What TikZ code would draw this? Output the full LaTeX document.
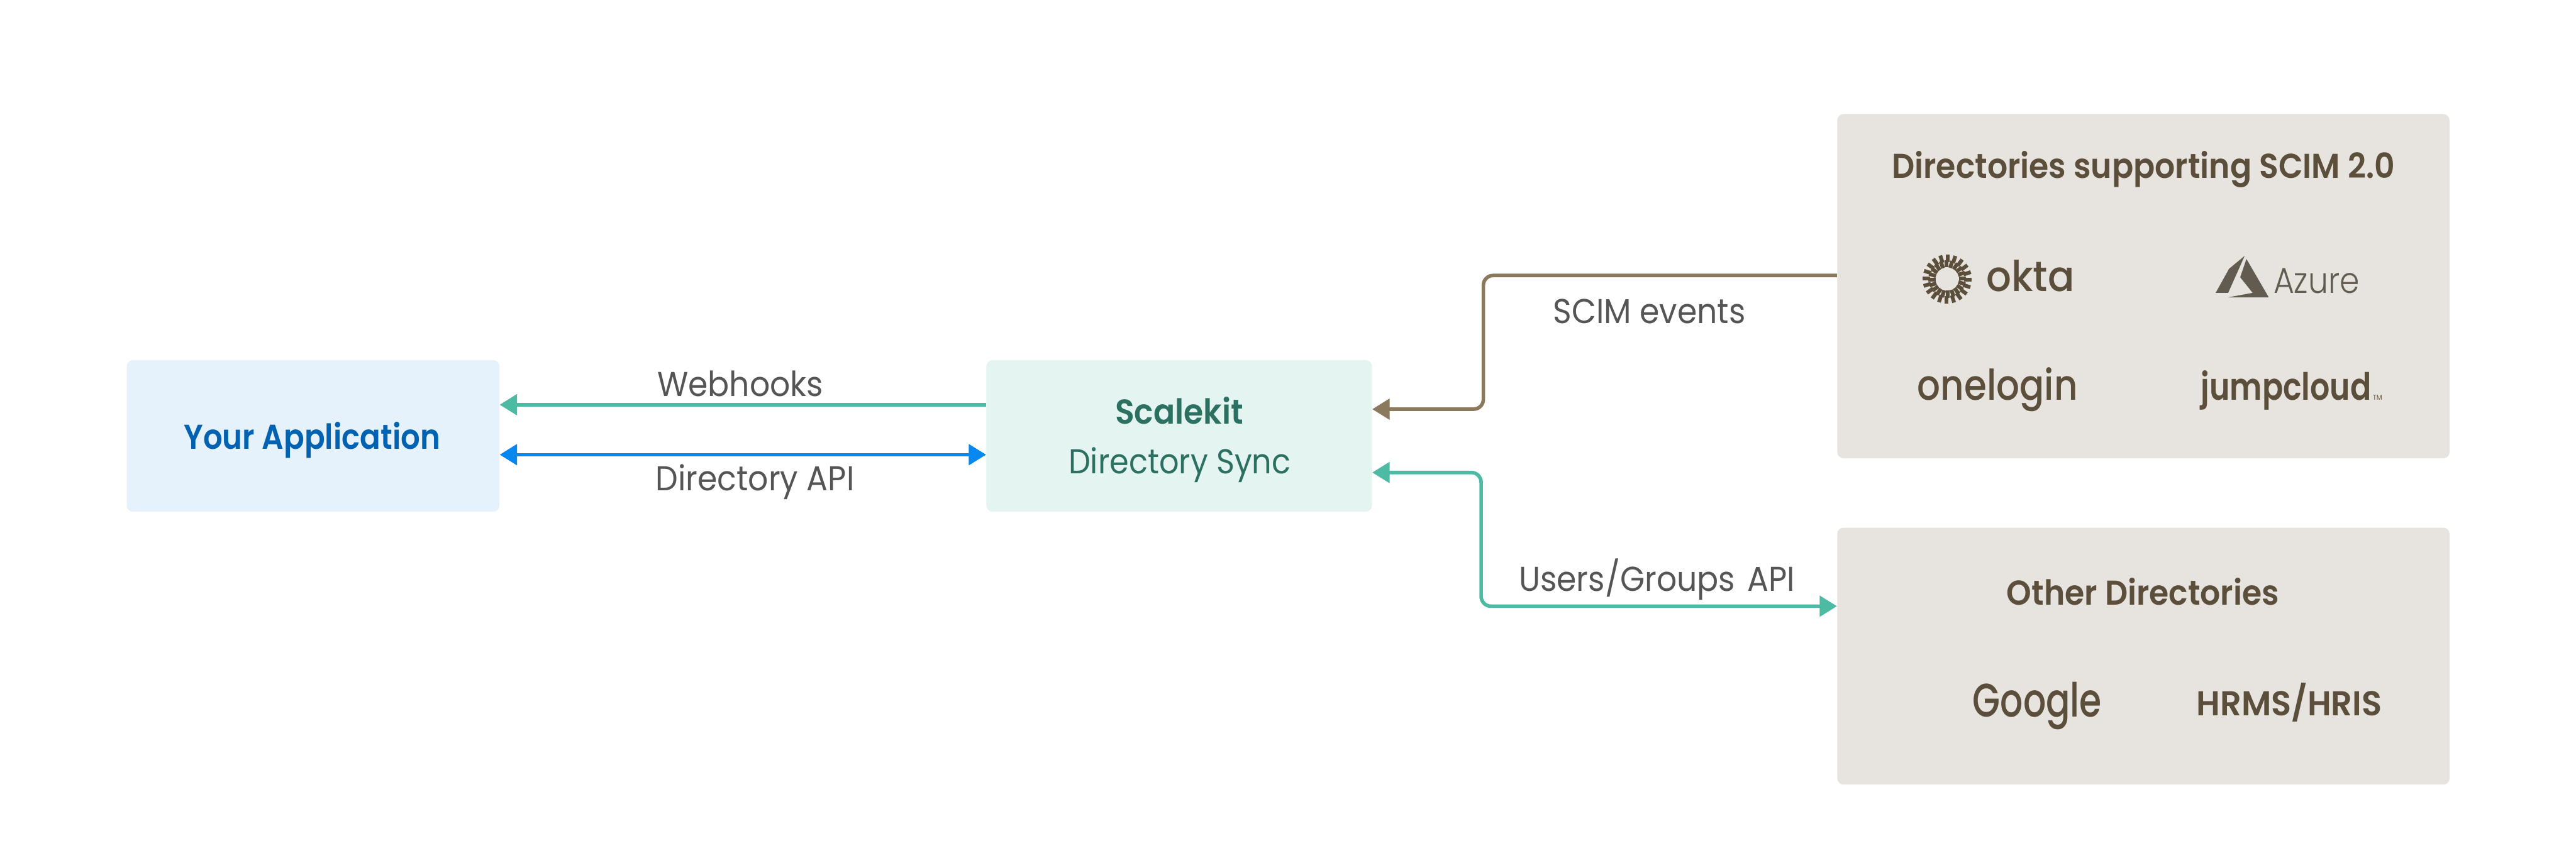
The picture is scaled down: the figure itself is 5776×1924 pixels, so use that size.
\documentclass[tikz,border=0pt]{standalone}
\usepackage{fontspec}
\usepackage{tikz}
\usetikzlibrary{arrows.meta,positioning,calc}
\setmainfont{Poppins}
\newfontfamily\lblfont[FakeStretch=0.92]{Poppins}
\newfontfamily\syncfont[FakeStretch=0.90]{Poppins}
\newfontfamily\headfont[FakeStretch=0.92]{Poppins SemiBold}
\newfontfamily\appfont[FakeStretch=0.88]{Poppins SemiBold}
\newfontfamily\hrmsfont[FakeStretch=0.96]{Poppins SemiBold}
\newfontfamily\oktafont[FakeStretch=0.93]{Poppins Medium}
\newfontfamily\onefont[FakeStretch=0.86]{Poppins Medium}
\newfontfamily\jumpfont[FakeStretch=0.82]{Poppins SemiBold}
\newfontfamily\gfont[FakeStretch=0.76]{Poppins Medium}
\newfontfamily\azfont[FakeStretch=0.88]{Poppins Light}
\definecolor{tealline}{HTML}{4DBBA3}
\definecolor{blueline}{HTML}{0787F0}
\definecolor{brownline}{HTML}{8B795E}
\definecolor{appfill}{HTML}{E5F2FC}
\definecolor{appink}{HTML}{0062B0}
\definecolor{kitfill}{HTML}{E4F4F1}
\definecolor{kitink}{HTML}{2B7060}
\definecolor{dirfill}{HTML}{E7E4DF}
\definecolor{dirink}{HTML}{5B4F3C}
\definecolor{azink}{HTML}{625C50}
\definecolor{labelink}{HTML}{555555}

\begin{document}
\begin{tikzpicture}[
    x=0.01cm, y=-0.01cm,
    box/.style={rectangle, rounded corners=0.14cm, inner sep=0pt},
    conn/.style={line width=0.08cm, rounded corners=0.22cm, {Triangle[length=0.39cm,width=0.46cm]}-{Triangle[length=0.39cm,width=0.46cm]}},
    oneway/.style={line width=0.08cm, rounded corners=0.22cm, -{Triangle[length=0.39cm,width=0.46cm]}},
    lbl/.style={anchor=base, inner sep=0pt, text=labelink, font=\lblfont\fontsize{22}{26}\selectfont},
    dirhead/.style={anchor=base, inner sep=0pt, text=dirink, font=\headfont\fontsize{22}{26}\selectfont},
    logo/.style={anchor=base, inner sep=0pt, text=dirink}
]
    \useasboundingbox (0,0) rectangle (5776,1924);

    \node[box, fill=appfill, minimum width=8.35cm, minimum height=3.40cm] (app) at (702,978) {};
    \node[box, fill=kitfill, minimum width=8.64cm, minimum height=3.40cm] (kit) at (2644,978) {};
    \node[box, fill=dirfill, minimum width=13.72cm, minimum height=7.72cm] (scim) at (4806,642) {};
    \node[box, fill=dirfill, minimum width=13.72cm, minimum height=5.76cm] (other) at (4806,1472) {};

    \node[anchor=base, inner sep=0pt, text=appink, font=\appfont\fontsize{22}{26}\selectfont] (apptext) at (700,1008) {Your Application};
    \node[anchor=base, inner sep=0pt, text=kitink, font=\headfont\fontsize{22}{26}\selectfont] (kittext) at (2644,951) {Scalekit};
    \node[anchor=base, inner sep=0pt, text=kitink, font=\syncfont\fontsize{22}{26}\selectfont] (synctext) at (2645,1063) {Directory Sync};

    \node[dirhead] (scimtitle) at (4806,400) {Directories supporting SCIM 2.0};
    \node[dirhead] (othertitle) at (4805,1357) {Other Directories};

    \foreach \a in {0,18,...,342} {
        \begin{scope}[shift={(4366,626)}, rotate=\a]
            \draw[dirink, line width=0.085cm] (26,-1.5) -- (42,-1.5);
            \draw[dirink, line width=0.085cm] (38,1.5) -- (55,1.5);
        \end{scope}
    }
    \node[logo, anchor=base west, font=\oktafont\fontsize{27}{30}\selectfont] (okta) at (4453,653) {okta};

    \fill[azink] (5033,574) -- (4998,603) -- (4968,657) -- (4996,657) -- cycle;
    \fill[azink] (5037,581) -- (5023,622) -- (5051,657) -- (4996,667) -- (5087,667) -- cycle;
    \node[logo, anchor=base west, text=azink, font=\azfont\fontsize{23}{26}\selectfont] (azure) at (5097,658) {Azure};

    \node[logo, font=\onefont\fontsize{27}{30}\selectfont] (onelogin) at (4479,897) {onelogin};
    \node[logo, font=\jumpfont\fontsize{24}{30}\selectfont] (jumpcloud) at (5126,897) {jumpcloud};
    \node[logo, anchor=base west, font=\lblfont\fontsize{4.5}{5}\selectfont] (tm) at (5320,897) {TM};

    \node[logo, font=\gfont\fontsize{30}{34}\selectfont] (google) at (4568,1608) {Google};
    \node[logo, font=\hrmsfont\fontsize{22}{26}\selectfont] (hrms) at (5133,1605) {HRMS/HRIS};

    \draw[tealline, oneway] ([yshift=0.70cm]kit.west) -- ([yshift=0.70cm]kit.west -| app.east);
    \draw[blueline, conn] ([yshift=-0.42cm]app.east) -- ([yshift=-0.42cm]app.east -| kit.west);
    \draw[brownline, oneway] ([yshift=0.24cm]scim.west) -- (3326,618) |- ([yshift=0.60cm]kit.east);
    \draw[tealline, conn] ([yshift=-0.82cm]kit.east) -- (3321,1060) |- ([yshift=1.12cm]other.west);

    \node[lbl] (webhooks) at (1660,889) {Webhooks};
    \node[lbl] (dirapi) at (1693,1101) {Directory API};
    \node[lbl] (scimevents) at (3698,726) {SCIM events};
    \node[lbl] (usersapi) at (3715,1326) {Users/Groups\ \hspace{0.1em}API};
\end{tikzpicture}
\end{document}
